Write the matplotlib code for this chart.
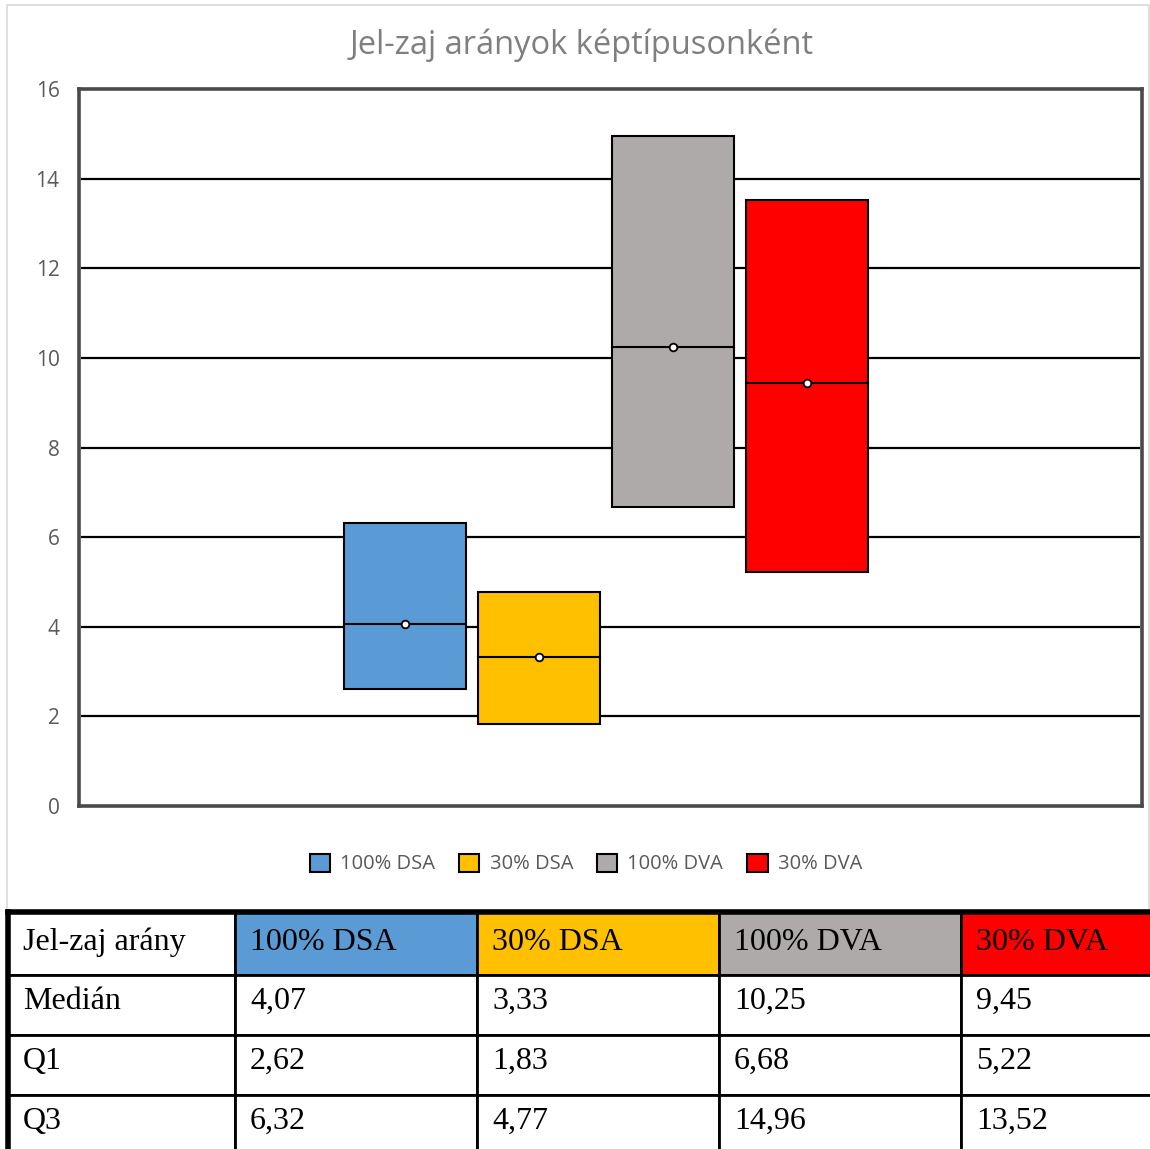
import matplotlib.pyplot as plt
from matplotlib.patches import Rectangle
import numpy as np

series = ["100% DSA", "30% DSA", "100% DVA", "30% DVA"]
colors = ["#5B9BD5", "#FFC000", "#AEAAAA", "#FF0000"]
median = [4.07, 3.33, 10.25, 9.45]
q1 = [2.62, 1.83, 6.68, 5.22]
q3 = [6.32, 4.77, 14.96, 13.52]
row_labels = ["Medián", "Q1", "Q3"]
header_label = "Jel-zaj arány"

W, H = 1150, 1149
fig = plt.figure(figsize=(W / 100, H / 100), dpi=100)

# background layer in pixel coordinates (chart frame + table)
bg = fig.add_axes([0, 0, 1, 1])
bg.set_xlim(0, W)
bg.set_ylim(H, 0)
bg.axis("off")
bg.add_patch(Rectangle((7, 5), W - 8, 907, fill=False, edgecolor="#D9D9D9", lw=1.2))

# box chart
ax = fig.add_axes([79 / W, 1 - 806 / H, (1142 - 79) / W, (806 - 89) / H])
ax.set_xlim(-0.5, 0.5)
ax.set_ylim(0, 16)
ax.set_yticks(np.arange(0, 17, 2))
ax.set_xticks([])
ax.tick_params(axis="y", length=0, pad=14, labelsize=15, labelcolor="#595959")
for lab in ax.get_yticklabels():
    lab.set_family("Open Sans")
for s in ax.spines.values():
    s.set_color("#4a4a4a")
    s.set_linewidth(2.6)
for y in range(2, 16, 2):
    ax.axhline(y, color="black", lw=1.6, zorder=1, xmin=0.003, xmax=0.997)

width = 0.1148
pos = (np.arange(4) - 1.5) * 0.126 - 0.004
heights = np.array(q3) - np.array(q1)
ax.bar(pos, heights, bottom=q1, width=width, color=colors, edgecolor="black",
       linewidth=1.5, zorder=3)
for x, m in zip(pos, median):
    ax.plot([x - width / 2, x + width / 2], [m, m], color="black", lw=1.5, zorder=4)
ax.plot(pos, median, "o", ms=5.5, mfc="white", mec="black", mew=1.3, zorder=5)

fig.text(582 / W, 1 - 45 / H, "Jel-zaj arányok képtípusonként", ha="center", va="center",
         fontsize=23.5, color="#7f7f7f", family="Open Sans")

# legend
handles = [Rectangle((0, 0), 1, 1, facecolor=c, edgecolor="black", lw=1.5) for c in colors]
fig.legend(handles, series, loc="center", bbox_to_anchor=(586 / W, 1 - 864 / H), ncol=4,
           frameon=False, handlelength=1.0, handleheight=1.0, handletextpad=0.5,
           columnspacing=1.2, prop={"family": "Open Sans", "size": 14.5},
           labelcolor="#595959")

# table
col_x = [8, 235, 477, 719, 961, 1203]
row_y = [912, 975, 1035, 1095, 1155]
cells = [[header_label] + series]
for name, vals in zip(row_labels, [median, q1, q3]):
    cells.append([name] + [f"{v:.2f}".replace(".", ",") for v in vals])
for r in range(4):
    for c in range(5):
        fc = colors[c - 1] if (r == 0 and c > 0) else "white"
        bg.add_patch(Rectangle((col_x[c], row_y[r]), col_x[c + 1] - col_x[c],
                               row_y[r + 1] - row_y[r], facecolor=fc,
                               edgecolor="black", lw=2.0))
        base = 38 if r == 0 else 34
        bg.text(col_x[c] + 15, row_y[r] + base, cells[r][c], fontsize=23,
                family="Liberation Serif", color="black", va="baseline", ha="left")
bg.plot([8, W], [912, 912], color="black", lw=4)
bg.plot([8, 8], [912, H], color="black", lw=4)

fig.savefig("out.png", dpi=100)
